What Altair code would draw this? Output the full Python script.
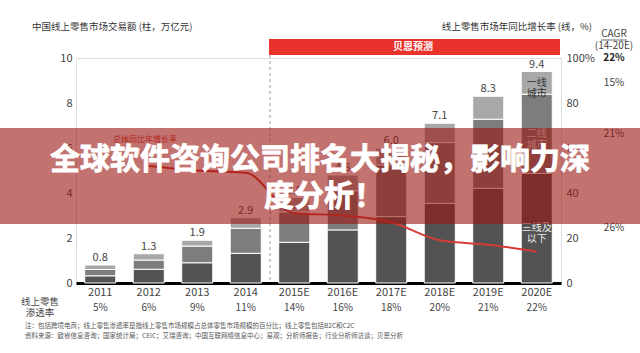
import altair as alt
import pandas as pd

# ---------------- data ----------------
years = ["2011", "2012", "2013", "2014", "2015E", "2016E", "2017E", "2018E", "2019E", "2020E"]
tier3 = [0.32, 0.61, 0.90, 1.32, 1.81, 2.36, 2.95, 3.54, 4.21, 4.87]   # 三线及以下
tier2 = [0.28, 0.41, 0.74, 1.11, 1.35, 1.74, 2.30, 2.70, 3.07, 3.52]   # 二线城市
tier1 = [0.20, 0.28, 0.26, 0.47, 0.64, 0.70, 0.75, 0.86, 1.02, 1.01]   # 一线城市
totals = [0.8, 1.3, 1.9, 2.9, 3.8, 4.8, 6.0, 7.1, 8.3, 9.4]
growth_years = ["2012", "2013", "2014", "2015E", "2016E", "2017E", "2018E", "2019E", "2020E"]
growth = [52, 50, 49, 31, 30, 27, 19, 17, 14]
penetration = ["5%", "6%", "9%", "11%", "14%", "16%", "18%", "20%", "21%", "22%"]
tiers = ["三线及以下", "二线城市", "一线城市"]
tier_labels = ["三线及\n以下", "二线\n城市", "一线\n城市"]
cagr_total = "22%"
cagr_tiers = ["26%", "21%", "15%"]

FONT = "Noto Sans CJK SC"
W, H = 485, 225
PL, PT = 76, 58

rows = []
for i, y in enumerate(years):
    for k, (t, v) in enumerate(zip(tiers, [tier3[i], tier2[i], tier1[i]])):
        rows.append({"year": y, "tier": t, "value": v, "ord": k})
df_bars = pd.DataFrame(rows)
df_tot = pd.DataFrame({"year": years, "total": totals, "label": [f"{t:.1f}" for t in totals]})
df_pen = pd.DataFrame({"year": years, "pen": penetration})
df_g = pd.DataFrame({"year": growth_years, "g": growth})

# midpoints of the 2020E segments (for in-bar labels and CAGR column)
last = len(years) - 1
mids = [tier3[last] / 2,
        tier3[last] + tier2[last] / 2,
        tier3[last] + tier2[last] + tier1[last] / 2]
df_in = pd.DataFrame({"year": [years[last]] * 3, "mid": mids, "lab": tier_labels,
                      "cagr": cagr_tiers, "dark": [0, 0, 1]})

xsort = years
xenc = alt.X("year:N", sort=xsort,
             scale=alt.Scale(paddingInner=0.36, paddingOuter=0.18),
             axis=alt.Axis(title=None, labelAngle=0, domainColor="#000", domainWidth=3,
                           ticks=False, labelFontSize=11, labelColor="#444",
                           labelPadding=3, labelFont=FONT))

yscale = alt.Scale(domain=[0, 10], nice=False)

bars = alt.Chart(df_bars).mark_bar(stroke="white", strokeWidth=1).encode(
    x=xenc,
    y=alt.Y("value:Q", stack="zero", scale=yscale,
            axis=alt.Axis(title=None, values=[0, 2, 4, 6, 8, 10], domain=False, ticks=False,
                          grid=False, labelPadding=4, labelFontSize=11, labelColor="#444",
                          labelFont=FONT)),
    color=alt.Color("tier:N", scale=alt.Scale(domain=tiers, range=["#535353", "#7d7d7d", "#a8a8a8"]),
                    legend=None),
    order=alt.Order("ord:Q"),
)

tot_text = alt.Chart(df_tot).mark_text(dy=-7, fontSize=11, color="#444", font=FONT).encode(
    x=alt.X("year:N", sort=xsort), y=alt.Y("total:Q"), text="label:N")

in_light = alt.Chart(df_in).transform_filter("datum.dark == 0").mark_text(
    fontSize=10, color="#eeeeee", font=FONT, lineBreak="\n", lineHeight=11).encode(
    x=alt.X("year:N", sort=xsort), y=alt.Y("mid:Q"), text="lab:N")
in_dark = alt.Chart(df_in).transform_filter("datum.dark == 1").mark_text(
    fontSize=10, color="#333", font=FONT, lineBreak="\n", lineHeight=11).encode(
    x=alt.X("year:N", sort=xsort), y=alt.Y("mid:Q"), text="lab:N")
cagr_col = alt.Chart(df_in).mark_text(fontSize=10, color="#444", font=FONT).encode(
    x=alt.value(538), y=alt.Y("mid:Q"), text="cagr:N")

left_group = alt.layer(bars, tot_text, in_light, in_dark, cagr_col)

line = alt.Chart(df_g).mark_line(color="#d63a35", strokeWidth=2, interpolate="monotone").encode(
    x=alt.X("year:N", sort=xsort),
    y=alt.Y("g:Q", scale=alt.Scale(domain=[0, 100], nice=False),
            axis=alt.Axis(orient="right", title=None, values=[0, 20, 40, 60, 80, 100],
                          labelExpr="datum.value == 100 ? '100%' : datum.label",
                          domain=False, ticks=False, grid=False, labelPadding=5,
                          labelFontSize=11, labelColor="#444", labelFont=FONT)),
)

pen_text = alt.Chart(df_pen).mark_text(fontSize=10, color="#444", font=FONT).encode(
    x=alt.X("year:N", sort=xsort), y=alt.value(250), text="pen:N")

one = pd.DataFrame({"a": [0]})


def txt(s, x, y, size=10, color="#333", align="center", weight="normal", baseline="middle",
        stroke=None, sw=0):
    kw = dict(text=s, fontSize=size, color=color, align=align, fontWeight=weight,
              baseline=baseline, font=FONT)
    if stroke:
        kw.update(stroke=stroke, strokeWidth=sw)
    return alt.Chart(one).mark_text(**kw).encode(x=alt.value(x), y=alt.value(y))


rule = alt.Chart(one).mark_rule(color="#999", strokeDash=[3, 3], strokeWidth=1).encode(
    x=alt.value(194), y=alt.value(-3), y2=alt.value(H))
banner = alt.Chart(one).mark_rect(color="#e8322b").encode(
    x=alt.value(193), x2=alt.value(484), y=alt.value(-19), y2=alt.value(-3))
cagr_ul = alt.Chart(one).mark_rule(color="#444", strokeWidth=0.8).encode(
    x=alt.value(525), x2=alt.value(551), y=alt.value(-18), y2=alt.value(-18))

texts = [
    txt("中国线上零售市场交易额 (柱，万亿元)", -44, -31, size=9.5, align="left"),
    txt("线上零售市场年同比增长率 (线，%)", 516, -31, size=9.5, align="right"),
    txt("贝恩预测", 337, -11, size=10, color="white", weight="bold"),
    txt("CAGR", 538, -24, size=10, color="#444"),
    txt("(14-20E)", 538, -12, size=10, color="#444"),
    txt(cagr_total, 538, 0, size=10, color="#222", weight="bold"),
    txt("总体同比年增长率", 69, 82, size=8, color="#d63a35"),
    txt("线上零售", -36, 244, size=9.5, color="#444"),
    txt("渗透率", -36, 255, size=9.5, color="#444"),
    txt("注：包括跨境电商；线上零售渗透率是指线上零售市场规模占总体零售市场规模的百分比；线上零售包括B2C和C2C",
        -51, 268, size=6.5, color="#555", align="left"),
    txt("资料来源：欧睿信息咨询；国家统计局；CEIC；艾瑞咨询；中国互联网络信息中心；易观；分析师报告；行业分析师访谈；贝恩分析",
        -51, 277.5, size=6.5, color="#555", align="left"),
]

overlay = alt.Chart(one).mark_rect(color="#99160f", opacity=0.6).encode(
    x=alt.value(-PL), x2=alt.value(640 - PL), y=alt.value(128 - PT), y2=alt.value(224 - PT))
title1 = txt("全球软件咨询公司排名大揭秘，影响力深", 244, 102, size=30, color="white", weight="bold",
             stroke="white", sw=0.8)
title2 = txt("度分析！", 248, 139, size=30, color="white", weight="bold", stroke="white", sw=0.8)

chart = alt.layer(left_group, line, rule, banner, cagr_ul, pen_text, *texts,
                  overlay, title1, title2).resolve_scale(y="independent").properties(
    width=W, height=H,
    padding={"left": PL, "top": PT, "right": 640 - PL - W, "bottom": 353 - PT - H},
    autosize=alt.AutoSizeParams(type="none"),
).configure_view(stroke=None).configure(font=FONT, background="white")

chart.save("out.html", embed_options={"renderer": "svg", "actions": False})
